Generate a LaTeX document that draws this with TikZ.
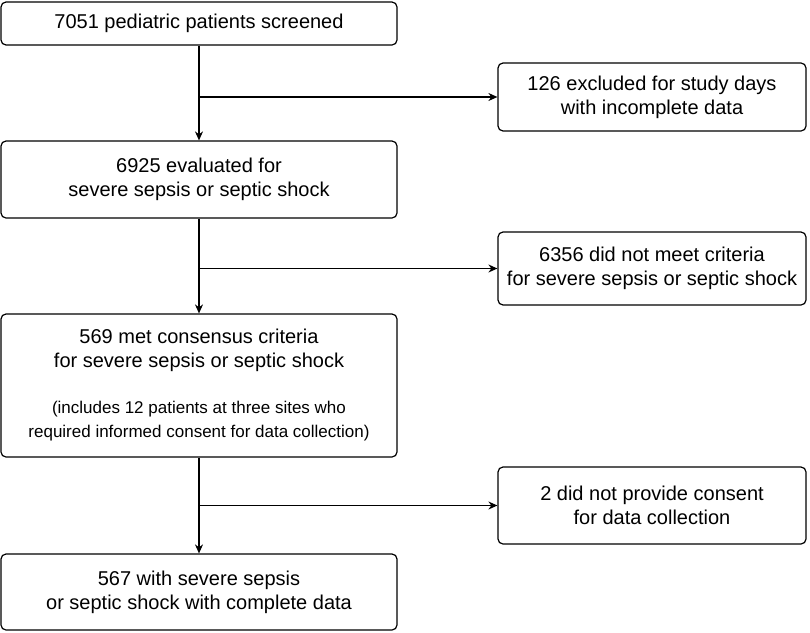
\documentclass[tikz,border=0pt]{standalone}
\usepackage{fontspec}
\setmainfont{Liberation Sans}
\usetikzlibrary{arrows.meta}
\tikzset{
  stagebox/.style={draw,rounded corners=5pt,line width=1.2pt,align=center,
    inner sep=0pt,minimum width=396pt,font=\fontsize{20}{24}\selectfont},
  exclbox/.style={stagebox,minimum width=308pt},
  flow/.style={line width=1.2pt,-{Stealth[length=9pt,width=8pt]}},
}
\newcommand{\notefont}{\fontsize{17}{23}\selectfont}
\begin{document}
\begin{tikzpicture}[x=1pt,y=1pt]
  \useasboundingbox (0,0) rectangle (810,-632);
  % main column
  \node[stagebox,minimum height=43pt] (screened) at (199,-23.5) {7051 pediatric patients screened};
  \node[stagebox,minimum height=77pt] (evaluated) at (199,-179.5) {6925 evaluated for\\severe sepsis or septic shock};
  \node[stagebox,minimum height=143pt] (met) at (199,-385.5) {569 met consensus criteria\\for severe sepsis or septic shock\\[22pt]
    \notefont(includes 12 patients at three sites who\\\notefont required informed consent for data collection)};
  \node[stagebox,minimum height=76pt] (complete) at (199,-592) {567 with severe sepsis\\or septic shock with complete data};
  % exclusions
  \node[exclbox,minimum height=68pt] (incomplete) at (652,-97) {126 excluded for study days\\with incomplete data};
  \node[exclbox,minimum height=73pt] (notmet) at (652,-268.5) {6356 did not meet criteria\\for severe sepsis or septic shock};
  \node[exclbox,minimum height=77pt] (noconsent) at (652,-505.5) {2 did not provide consent\\for data collection};
  % connectors
  \coordinate (b1) at (screened.south |- incomplete.west);
  \coordinate (b2) at (evaluated.south |- notmet.west);
  \coordinate (b3) at (met.south |- noconsent.west);
  \draw[flow] (screened) -- (evaluated);
  \draw[flow] (evaluated) -- (met);
  \draw[flow] (met) -- (complete);
  \draw[flow] (b1) -- (incomplete.west);
  \draw[flow] (b2) -- (notmet.west);
  \draw[flow] (b3) -- (noconsent.west);
\end{tikzpicture}
\end{document}
